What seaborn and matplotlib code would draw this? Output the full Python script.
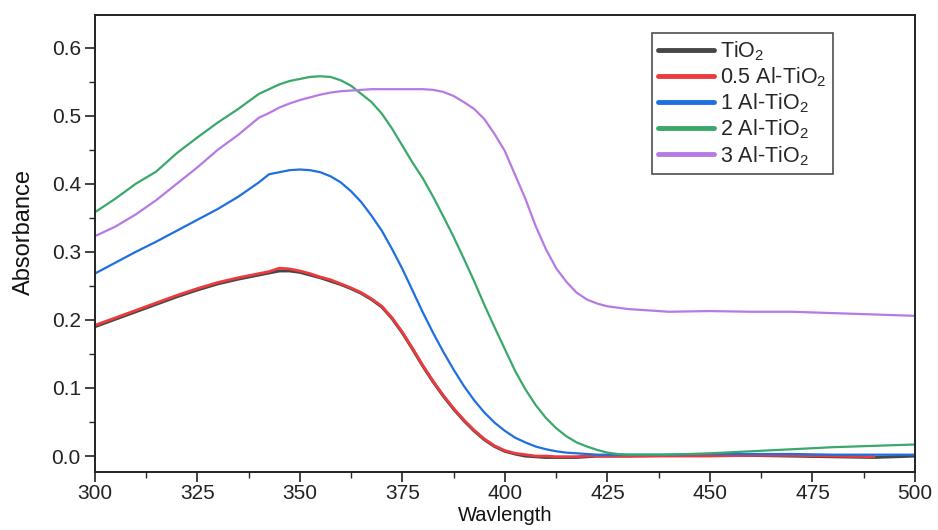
import numpy as np
import pandas as pd
import matplotlib
matplotlib.use("Agg")
import matplotlib.pyplot as plt
from matplotlib.ticker import MultipleLocator
import seaborn as sns

# Wavelength grid (nm): coarse at the ends, finer across the absorption edge
wavelength = [300, 305, 310, 315, 320, 325, 330, 335, 340,
              342.5, 345, 347.5, 350, 352.5, 355, 357.5, 360, 362.5, 365,
              367.5, 370, 372.5, 375, 377.5, 380, 382.5, 385, 387.5, 390,
              392.5, 395, 397.5, 400, 402.5, 405, 407.5, 410, 412.5, 415,
              417.5, 420, 422.5, 425, 427.5, 430,
              440, 450, 460, 470, 480, 490, 500]

# Absorbance spectra of the samples
tio2 = [0.190, 0.201, 0.212, 0.223, 0.234, 0.244, 0.253, 0.260, 0.266,
        0.269, 0.272, 0.272, 0.270, 0.266, 0.262, 0.257, 0.252, 0.246, 0.239,
        0.230, 0.219, 0.202, 0.181, 0.157, 0.132, 0.109, 0.088, 0.069, 0.052,
        0.037, 0.024, 0.014, 0.007, 0.003, 0.000, -0.001, -0.002, -0.002, -0.002,
        -0.002, -0.001, 0.000, 0.000, 0.000, 0.000,
        0.001, 0.001, 0.001, 0.000, -0.001, -0.002, 0.000]
al_05 = [0.192, 0.203, 0.214, 0.225, 0.236, 0.246, 0.255, 0.262, 0.268,
         0.271, 0.276, 0.275, 0.272, 0.268, 0.263, 0.259, 0.253, 0.247, 0.240,
         0.231, 0.220, 0.203, 0.182, 0.158, 0.133, 0.110, 0.089, 0.070, 0.053,
         0.038, 0.025, 0.015, 0.008, 0.004, 0.002, 0.000, 0.000, -0.001, -0.001,
         -0.001, 0.000, 0.000, 0.000, 0.000, 0.000,
         0.000, 0.000, 0.001, 0.001, 0.000, -0.001, None]
al_1 = [0.268, 0.284, 0.300, 0.315, 0.331, 0.347, 0.363, 0.381, 0.402,
        0.414, 0.417, 0.420, 0.421, 0.420, 0.417, 0.411, 0.402, 0.389, 0.373,
        0.353, 0.331, 0.304, 0.275, 0.243, 0.211, 0.181, 0.153, 0.127, 0.103,
        0.082, 0.064, 0.049, 0.037, 0.027, 0.020, 0.014, 0.010, 0.007, 0.005,
        0.004, 0.003, 0.002, 0.002, 0.002, 0.002,
        0.002, 0.003, 0.003, 0.003, 0.002, 0.002, 0.002]
al_2 = [0.358, 0.378, 0.400, 0.418, 0.445, 0.468, 0.490, 0.510, 0.532,
        0.539, 0.546, 0.551, 0.554, 0.557, 0.558, 0.557, 0.552, 0.544, 0.532,
        0.520, 0.503, 0.481, 0.456, 0.431, 0.408, 0.381, 0.352, 0.322, 0.290,
        0.257, 0.222, 0.189, 0.157, 0.125, 0.098, 0.075, 0.056, 0.041, 0.029,
        0.020, 0.014, 0.009, 0.005, 0.003, 0.002,
        0.002, 0.004, 0.007, 0.010, 0.013, 0.015, 0.017]
al_3 = [0.323, 0.337, 0.355, 0.376, 0.400, 0.424, 0.450, 0.472, 0.497,
        0.504, 0.512, 0.518, 0.523, 0.527, 0.531, 0.534, 0.536, 0.537, 0.538,
        0.539, 0.539, 0.539, 0.539, 0.539, 0.539, 0.538, 0.535, 0.529, 0.520,
        0.510, 0.495, 0.473, 0.448, 0.413, 0.378, 0.338, 0.304, 0.276, 0.256,
        0.240, 0.230, 0.224, 0.220, 0.218, 0.216,
        0.212, 0.213, 0.212, 0.212, 0.210, 0.208, 0.206]

labels = ["TiO$_2$", "0.5 Al-TiO$_2$", "1 Al-TiO$_2$", "2 Al-TiO$_2$", "3 Al-TiO$_2$"]
series = [tio2, al_05, al_1, al_2, al_3]
colors = ["#474747", "#ec3b3f", "#1f6fe0", "#3aa86b", "#b57ae3"]
widths = [2.2, 2.0, 1.6, 1.6, 1.6]

frames = []
for lab, vals in zip(labels, series):
    frames.append(pd.DataFrame({"Wavelength": wavelength,
                                "Absorbance": np.array(vals, dtype=float),
                                "Sample": lab}))
df = pd.concat(frames, ignore_index=True).dropna()

sns.set_theme(style="ticks")
plt.rcParams["font.family"] = ["Liberation Sans", "DejaVu Sans"]
plt.rcParams["mathtext.default"] = "regular"

fig = plt.figure(figsize=(9.38, 5.30), dpi=100)
ax = fig.add_axes([0.101, 0.110, 0.8745, 0.8617])

sns.lineplot(data=df, x="Wavelength", y="Absorbance", hue="Sample",
             hue_order=labels, palette=colors, ax=ax, legend=False,
             sort=False)
for line, w in zip(ax.lines, widths):
    line.set_linewidth(w)

ax.set_xlim(300, 500)
ax.set_ylim(-0.023, 0.648)
ax.xaxis.set_major_locator(MultipleLocator(25))
ax.xaxis.set_minor_locator(MultipleLocator(12.5))
ax.yaxis.set_major_locator(MultipleLocator(0.1))
ax.yaxis.set_minor_locator(MultipleLocator(0.05))
ax.tick_params(which="major", direction="out", length=7, width=1.2,
               labelsize=15, colors="#222222", top=False, right=False)
ax.tick_params(which="minor", direction="out", length=4, width=1.0,
               top=False, right=False)
ax.tick_params(axis="x", pad=2)
ax.tick_params(axis="y", pad=3)
for sp in ax.spines.values():
    sp.set_visible(True)
    sp.set_color("#222222")
    sp.set_linewidth(1.4)

ax.set_xlabel("Wavlength", fontsize=14.5, color="#111111", va="top")
ax.xaxis.set_label_coords(0.5, -0.076)
ax.set_ylabel("Absorbance", fontsize=17, color="#111111")
ax.yaxis.set_label_coords(-0.073, 0.525)

handles = [plt.Line2D([], [], color=c, lw=3.5) for c in colors]
leg = ax.legend(handles, labels, loc="upper left", bbox_to_anchor=(0.679, 0.961),
                fontsize=15.5, frameon=True, fancybox=False, handlelength=2.6,
                handletextpad=0.25, labelspacing=0.12, borderpad=0.3,
                borderaxespad=0)
leg.get_frame().set_edgecolor("#222222")
leg.get_frame().set_linewidth(1.2)

fig.savefig("out.png", dpi=100)
